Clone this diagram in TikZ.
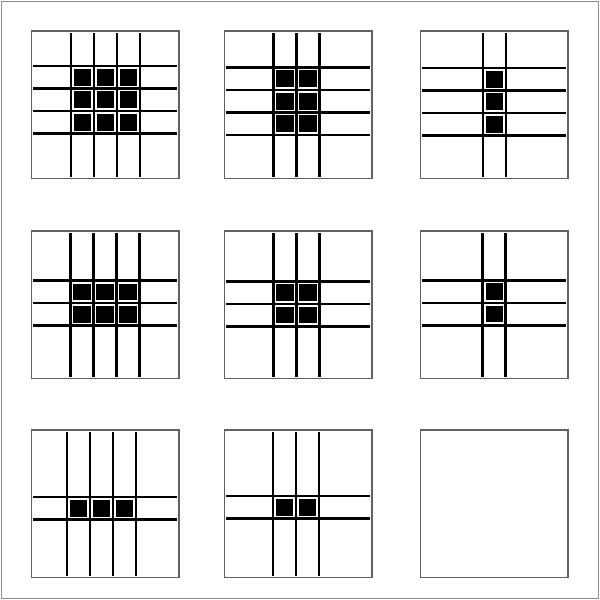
\documentclass[tikz,border=0pt]{standalone}
\usepackage{tikz}

\begin{document}
\begin{tikzpicture}[x=0.02cm,y=-0.02cm,
    outer/.style={draw=black!45,line width=0.6pt},
    panel/.style={draw=black!62,line width=0.6pt,fill=white},
    wire/.style={line width=1.4pt},
    blob/.style={fill=black}]
  \useasboundingbox (0,0) rectangle (600,600);
  \draw[outer] (1.5,1.5) rectangle (598.5,598.5);
  % left/top/x-centre/y-centre/columns/rows
  \foreach \l/\t/\cx/\cy/\nc/\nr in {
      31.5/31/105.5/99.7/3/3, 224.5/31/296.5/101.3/2/3, 420.5/31/494.5/101.7/1/3,
      31.5/231/105/303.2/3/2, 224.5/231/296.5/303.8/2/2, 420.5/231/494.2/302.8/1/2,
      31.5/430/101.7/508.2/3/1, 224.5/430/295.8/507.3/2/1}{
    \draw[panel] (\l,\t) rectangle ++(147.5,147.5);
    \foreach \i in {0,...,\nc}
      \draw[wire] ({\cx+(\i-\nc/2)*23},{\t+2}) -- ++(0,143.5);
    \foreach \j in {0,...,\nr}
      \draw[wire] ({\l+2},{\cy+(\j-\nr/2)*22.5}) -- ++(143.5,0);
    \foreach \i in {1,...,\nc}
      \foreach \j in {1,...,\nr}
        \fill[blob] ({\cx+(\i-(\nc+1)/2)*23},{\cy+(\j-(\nr+1)/2)*22.5})
          +(-8.6,-8.4) rectangle +(8.6,8.4);
  }
  \draw[panel] (420.5,430) rectangle ++(147.5,147.5);
\end{tikzpicture}
\end{document}
